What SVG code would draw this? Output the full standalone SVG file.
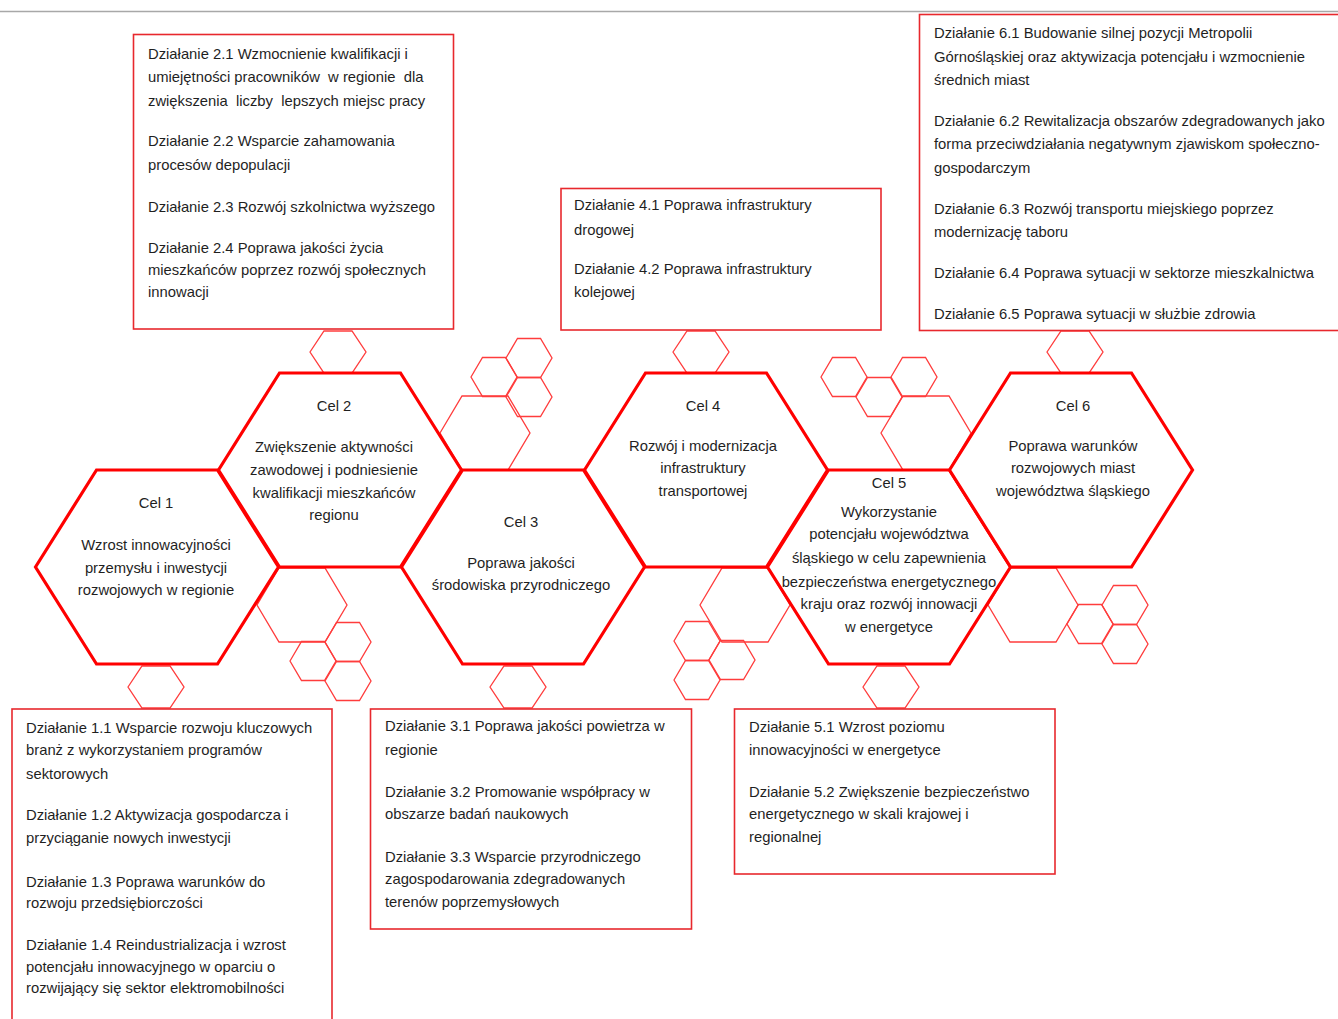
<svg xmlns="http://www.w3.org/2000/svg" xmlns:xlink="http://www.w3.org/1999/xlink" width="1338" height="1019" viewBox="0 0 1338 1019">
<style>
.t{font-family:"Liberation Sans",Arial,sans-serif;font-size:14.8px;fill:#1f1f1f}
.c{text-anchor:middle}
.big{fill:#fff;stroke:#ff0000;stroke-width:3.2;stroke-linejoin:miter}
.sm{fill:none;stroke:#ff3c3c;stroke-width:1.3}
.box{fill:#fff;stroke:#e8282d;stroke-width:1.6}
</style>
<defs>
<polygon id="hexL" points="-121.5,0 -60.5,-97 60.5,-97 121.5,0 60.5,97 -60.5,97"/>
<polygon id="hexM" points="-45,0 -23,-37 23,-37 45,0 23,37 -23,37"/>
<polygon id="hexS" points="-28,0 -14,-21 14,-21 28,0 14,21 -14,21"/>
<polygon id="hexC" points="-23,0 -11.5,-19.5 11.5,-19.5 23,0 11.5,19.5 -11.5,19.5"/>
</defs>
<rect width="1338" height="1019" fill="#fff"/>
<line x1="0" y1="11.5" x2="1338" y2="11.5" stroke="#a8a8a8" stroke-width="1.5"/>

<g id="decor">
<use xlink:href="#hexM" class="sm" x="485" y="433"/>
<use xlink:href="#hexM" class="sm" x="302" y="605"/>
<use xlink:href="#hexM" class="sm" x="926" y="433"/>
<use xlink:href="#hexM" class="sm" x="745" y="605"/>
<use xlink:href="#hexM" class="sm" x="1033" y="605"/>
<use xlink:href="#hexC" class="sm" x="348" y="642"/>
<use xlink:href="#hexC" class="sm" x="313" y="661"/>
<use xlink:href="#hexC" class="sm" x="348" y="681"/>
<use xlink:href="#hexC" class="sm" x="494" y="377"/>
<use xlink:href="#hexC" class="sm" x="529" y="358"/>
<use xlink:href="#hexC" class="sm" x="529" y="397"/>
<use xlink:href="#hexC" class="sm" x="844" y="377"/>
<use xlink:href="#hexC" class="sm" x="879" y="397"/>
<use xlink:href="#hexC" class="sm" x="914" y="377"/>
<use xlink:href="#hexC" class="sm" x="697" y="641"/>
<use xlink:href="#hexC" class="sm" x="732" y="660"/>
<use xlink:href="#hexC" class="sm" x="697" y="680"/>
<use xlink:href="#hexC" class="sm" x="1090" y="624"/>
<use xlink:href="#hexC" class="sm" x="1125" y="605"/>
<use xlink:href="#hexC" class="sm" x="1125" y="644"/>
</g>

<g id="connectors">
<use xlink:href="#hexS" class="sm" x="338" y="352"/>
<use xlink:href="#hexS" class="sm" x="701" y="352"/>
<use xlink:href="#hexS" class="sm" x="1075" y="352"/>
<use xlink:href="#hexS" class="sm" x="156" y="687"/>
<use xlink:href="#hexS" class="sm" x="518" y="687"/>
<use xlink:href="#hexS" class="sm" x="891" y="687"/>
</g>

<g id="cel1">
<use xlink:href="#hexL" class="big" x="157" y="567"/>
<text class="t c" x="156" y="508">Cel 1</text>
<text class="t c" x="156" y="550">Wzrost innowacyjności</text>
<text class="t c" x="156" y="573">przemysłu i inwestycji</text>
<text class="t c" x="156" y="595">rozwojowych w regionie</text>
</g>
<g id="cel2">
<use xlink:href="#hexL" class="big" x="340" y="470"/>
<text class="t c" x="334" y="411">Cel 2</text>
<text class="t c" x="334" y="452">Zwiększenie aktywności</text>
<text class="t c" x="334" y="475">zawodowej i podniesienie</text>
<text class="t c" x="334" y="498">kwalifikacji mieszkańców</text>
<text class="t c" x="334" y="520">regionu</text>
</g>
<g id="cel3">
<use xlink:href="#hexL" class="big" x="523" y="567"/>
<text class="t c" x="521" y="527">Cel 3</text>
<text class="t c" x="521" y="568">Poprawa jakości</text>
<text class="t c" x="521" y="590">środowiska przyrodniczego</text>
</g>
<g id="cel4">
<use xlink:href="#hexL" class="big" x="706" y="470"/>
<text class="t c" x="703" y="411">Cel 4</text>
<text class="t c" x="703" y="451">Rozwój i modernizacja</text>
<text class="t c" x="703" y="473">infrastruktury</text>
<text class="t c" x="703" y="496">transportowej</text>
</g>
<g id="cel5">
<use xlink:href="#hexL" class="big" x="889" y="567"/>
<text class="t c" x="889" y="488">Cel 5</text>
<text class="t c" x="889" y="517">Wykorzystanie</text>
<text class="t c" x="889" y="539">potencjału województwa</text>
<text class="t c" x="889" y="563">śląskiego w celu zapewnienia</text>
<text class="t c" x="889" y="587">bezpieczeństwa energetycznego</text>
<text class="t c" x="889" y="609">kraju oraz rozwój innowacji</text>
<text class="t c" x="889" y="632">w energetyce</text>
</g>
<g id="cel6">
<use xlink:href="#hexL" class="big" x="1071" y="470"/>
<text class="t c" x="1073" y="411">Cel 6</text>
<text class="t c" x="1073" y="451">Poprawa warunków</text>
<text class="t c" x="1073" y="473">rozwojowych miast</text>
<text class="t c" x="1073" y="496">województwa śląskiego</text>
</g>

<g id="box2">
<rect class="box" x="133.5" y="34.5" width="320" height="294.5"/>
<text class="t" x="148" y="59">Działanie 2.1 Wzmocnienie kwalifikacji i</text>
<text class="t" x="148" y="82" xml:space="preserve">umiejętności pracowników  w regionie  dla</text>
<text class="t" x="148" y="106" xml:space="preserve">zwiększenia  liczby  lepszych miejsc pracy</text>
<text class="t" x="148" y="146">Działanie 2.2 Wsparcie zahamowania</text>
<text class="t" x="148" y="170">procesów depopulacji</text>
<text class="t" x="148" y="212">Działanie 2.3 Rozwój szkolnictwa wyższego</text>
<text class="t" x="148" y="253">Działanie 2.4 Poprawa jakości życia</text>
<text class="t" x="148" y="275">mieszkańców poprzez rozwój społecznych</text>
<text class="t" x="148" y="297">innowacji</text>
</g>
<g id="box4">
<rect class="box" x="561" y="188.5" width="320" height="141.5"/>
<text class="t" x="574" y="210">Działanie 4.1 Poprawa infrastruktury</text>
<text class="t" x="574" y="235">drogowej</text>
<text class="t" x="574" y="274">Działanie 4.2 Poprawa infrastruktury</text>
<text class="t" x="574" y="297">kolejowej</text>
</g>
<g id="box6">
<rect class="box" x="919.5" y="14.5" width="430" height="316"/>
<text class="t" x="934" y="38">Działanie 6.1 Budowanie silnej pozycji Metropolii</text>
<text class="t" x="934" y="62">Górnośląskiej oraz aktywizacja potencjału i wzmocnienie</text>
<text class="t" x="934" y="85">średnich miast</text>
<text class="t" x="934" y="126">Działanie 6.2 Rewitalizacja obszarów zdegradowanych jako</text>
<text class="t" x="934" y="149">forma przeciwdziałania negatywnym zjawiskom społeczno-</text>
<text class="t" x="934" y="173">gospodarczym</text>
<text class="t" x="934" y="214">Działanie 6.3 Rozwój transportu miejskiego poprzez</text>
<text class="t" x="934" y="237">modernizację taboru</text>
<text class="t" x="934" y="278">Działanie 6.4 Poprawa sytuacji w sektorze mieszkalnictwa</text>
<text class="t" x="934" y="319">Działanie 6.5 Poprawa sytuacji w służbie zdrowia</text>
</g>
<g id="box1">
<rect class="box" x="12" y="709" width="320" height="320"/>
<text class="t" x="26" y="733">Działanie 1.1 Wsparcie rozwoju kluczowych</text>
<text class="t" x="26" y="755">branż z wykorzystaniem programów</text>
<text class="t" x="26" y="779">sektorowych</text>
<text class="t" x="26" y="820">Działanie 1.2 Aktywizacja gospodarcza i</text>
<text class="t" x="26" y="843">przyciąganie nowych inwestycji</text>
<text class="t" x="26" y="887">Działanie 1.3 Poprawa warunków do</text>
<text class="t" x="26" y="908">rozwoju przedsiębiorczości</text>
<text class="t" x="26" y="950">Działanie 1.4 Reindustrializacja i wzrost</text>
<text class="t" x="26" y="972">potencjału innowacyjnego w oparciu o</text>
<text class="t" x="26" y="993">rozwijający się sektor elektromobilności</text>
</g>
<g id="box3">
<rect class="box" x="370.5" y="709" width="321" height="220"/>
<text class="t" x="385" y="731">Działanie 3.1 Poprawa jakości powietrza w</text>
<text class="t" x="385" y="755">regionie</text>
<text class="t" x="385" y="797">Działanie 3.2 Promowanie współpracy w</text>
<text class="t" x="385" y="819">obszarze badań naukowych</text>
<text class="t" x="385" y="862">Działanie 3.3 Wsparcie przyrodniczego</text>
<text class="t" x="385" y="884">zagospodarowania zdegradowanych</text>
<text class="t" x="385" y="907">terenów poprzemysłowych</text>
</g>
<g id="box5">
<rect class="box" x="734.5" y="709" width="320.5" height="165"/>
<text class="t" x="749" y="732">Działanie 5.1 Wzrost poziomu</text>
<text class="t" x="749" y="755">innowacyjności w energetyce</text>
<text class="t" x="749" y="797">Działanie 5.2 Zwiększenie bezpieczeństwo</text>
<text class="t" x="749" y="819">energetycznego w skali krajowej i</text>
<text class="t" x="749" y="842">regionalnej</text>
</g>
</svg>
